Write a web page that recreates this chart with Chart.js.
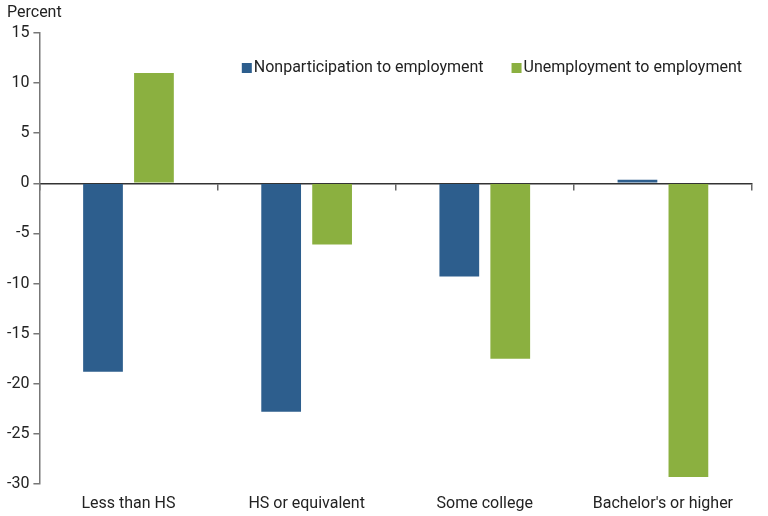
<!DOCTYPE html>
<html>
<head>
<meta charset="utf-8">
<script src="https://cdn.jsdelivr.net/npm/chart.js@4.4.1/dist/chart.umd.min.js"></script>
<style>
  html, body { margin: 0; padding: 0; background: #fff; }
  #wrap { width: 768px; height: 516px; }
</style>
</head>
<body>
<div id="wrap"><canvas id="myChart"></canvas></div>
<script>
const categories = ['Less than HS', 'HS or equivalent', 'Some college', "Bachelor's or higher"]
const nonparticipation = [-18.8, -22.8, -9.3, 0.35]
const unemployment = [11.0, -6.1, -17.5, -29.3]
const seriesNames = ['Nonparticipation to employment', 'Unemployment to employment']
const yMin = -30
const yMax = 15
const yStep = 5
const unitLabel = 'Percent'

const blue = '#2d5e8d'
const green = '#8bb040'
const textColor = '#222'
const fontFamily = 'Roboto, "Liberation Sans", sans-serif'

// draws the "Percent" label and the legend inside the plot
const extras = {
  id: 'extras',
  afterDraw(chart) {
    const ctx = chart.ctx
    const area = chart.chartArea
    ctx.save()
    ctx.font = '16px ' + fontFamily
    ctx.fillStyle = textColor
    ctx.textBaseline = 'middle'
    ctx.textAlign = 'left'
    ctx.fillText(unitLabel, 7, 13)

    const box = 10
    const boxGap = 2
    const itemGap = 28
    const items = chart.data.datasets.map(d => ({
      label: d.label,
      color: d.backgroundColor,
      w: box + boxGap + ctx.measureText(d.label).width
    }))
    const total = items.reduce((s, it) => s + it.w, 0) + itemGap * (items.length - 1)
    let x = area.right - 10 - total
    const y = area.top + 35
    items.forEach(it => {
      ctx.fillStyle = it.color
      ctx.fillRect(x, y - box / 2, box, box)
      ctx.fillStyle = textColor
      ctx.fillText(it.label, x + box + boxGap, y)
      x += it.w + itemGap
    })
    ctx.restore()
  }
}

const chart = new Chart(document.querySelector('#myChart'), {
  type: 'bar',
  data: {
    labels: categories,
    datasets: [
      {
        label: seriesNames[0],
        data: nonparticipation,
        backgroundColor: blue,
        categoryPercentage: 0.572,
        barPercentage: 0.78
      },
      {
        label: seriesNames[1],
        data: unemployment,
        backgroundColor: green,
        categoryPercentage: 0.572,
        barPercentage: 0.78
      }
    ]
  },
  options: {
    responsive: true,
    maintainAspectRatio: false,
    animation: false,
    layout: {
      padding: { top: 33, left: 3, right: 16, bottom: 3 }
    },
    plugins: {
      legend: { display: false },
      tooltip: { enabled: false }
    },
    scales: {
      x: {
        type: 'category',
        offset: true,
        border: { display: false },
        grid: { display: false, drawTicks: false },
        ticks: {
          color: textColor,
          font: { family: fontFamily, size: 16 },
          padding: 10,
          maxRotation: 0
        },
        afterFit(scale) {
          scale.height = 29
        }
      },
      x0: {
        type: 'category',
        labels: categories,
        position: { y: 0 },
        offset: true,
        border: { display: true, color: '#333', width: 1.5 },
        grid: {
          display: true,
          offset: true,
          drawOnChartArea: false,
          drawTicks: true,
          tickLength: 6,
          color: '#666',
          lineWidth: 1.5
        },
        ticks: { display: false }
      },
      y: {
        min: yMin,
        max: yMax,
        border: { display: true, color: '#777', width: 1.5 },
        grid: {
          drawOnChartArea: false,
          drawTicks: true,
          tickLength: 6,
          color: '#777',
          lineWidth: 1.5
        },
        ticks: {
          stepSize: yStep,
          color: textColor,
          font: { family: fontFamily, size: 16 },
          padding: 4
        }
      }
    }
  },
  plugins: [extras]
})
</script>
</body>
</html>
